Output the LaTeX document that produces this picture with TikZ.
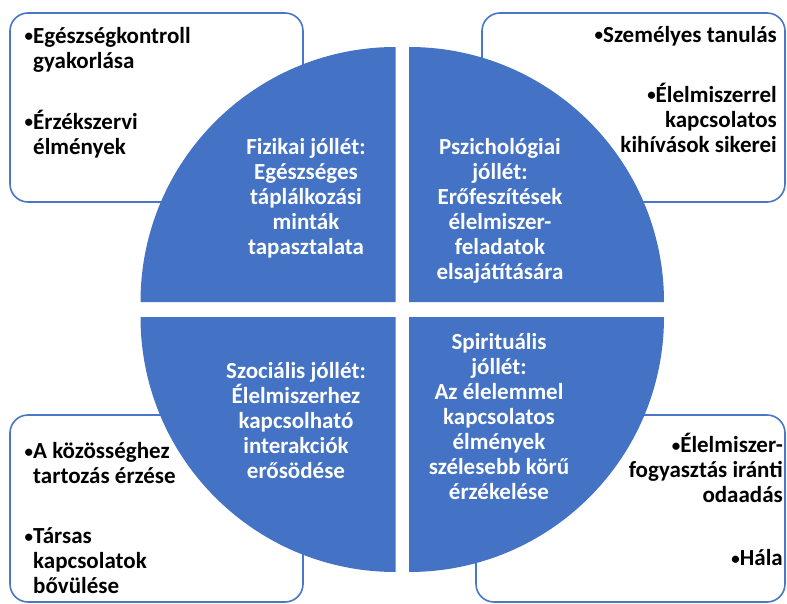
\documentclass[tikz,border=0pt]{standalone}
\usepackage{fontspec}
\setmainfont{Carlito}
\definecolor{qblue}{RGB}{68,114,196}
\definecolor{bblue}{RGB}{72,118,200}
\newcommand{\bul}{\raisebox{1.2pt}{\fontsize{17}{25}\selectfont•}}
\begin{document}
\begin{tikzpicture}[x=1pt,y=-1pt,
  outbox/.style={draw=bblue,line width=1.6pt,fill=white,rounded corners=18pt},
  quad/.style={fill=qblue},
  qtext/.style={text=white,font=\fontsize{23}{25}\selectfont\bfseries,align=center,inner sep=0pt,anchor=north},
  btext/.style={text=black,font=\fontsize{23}{25}\selectfont\bfseries,inner sep=0pt}]
\useasboundingbox (0,0) rectangle (787,604);
% outer boxes
\draw[outbox] (10,13) rectangle (303,202);
\draw[outbox] (482,13) rectangle (785,202);
\draw[outbox] (10,415) rectangle (303,602);
\draw[outbox] (476,415) rectangle (785,602);
% quadrants
\fill[quad] (395.5,302) -- (140.5,302) arc[start angle=180,end angle=270,radius=255] -- cycle;
\fill[quad] (409,302) -- (409,47) arc[start angle=270,end angle=360,radius=255] -- cycle;
\fill[quad] (395.5,317) -- (140.5,317) arc[start angle=180,end angle=90,radius=255] -- cycle;
\fill[quad] (409,317) -- (664,317) arc[start angle=0,end angle=90,radius=255] -- cycle;
% quadrant texts
\node[qtext] (fiz) at (306,134) {\rule{0pt}{20pt}Fizikai jóllét:\\Egészséges\\táplálkozási\\minták\\tapasztalata};
\node[qtext] (psz) at (500,134) {\rule{0pt}{20pt}Pszichológiai\\jóllét:\\Erőfeszítések\\élelmiszer-\\feladatok\\elsajátítására};
\node[qtext] (szo) at (296,358) {\rule{0pt}{20pt}Szociális jóllét:\\Élelmiszerhez\\kapcsolható\\interakciók\\erősödése};
\node[qtext] (spi) at (499,329) {\rule{0pt}{20pt}Spirituális\\jóllét:\\Az élelemmel\\kapcsolatos\\élmények\\szélesebb körű\\érzékelése};
% box texts
\node[btext,align=left,anchor=north west] (b1) at (33,23) {\rule{0pt}{20pt}\llap{\bul}Egészségkontroll\\gyakorlása\\[36pt]\llap{\bul}Érzékszervi\\élmények};
\node[btext,align=right,anchor=north east] (b2) at (777,22) {\rule{0pt}{20pt}\bul Személyes tanulás\\[35pt]\bul Élelmiszerrel\\kapcsolatos\\kihívások sikerei};
\node[btext,align=left,anchor=north west] (b3) at (33,438) {\rule{0pt}{20pt}\llap{\bul}A közösséghez\\tartozás érzése\\[35pt]\llap{\bul}Társas\\kapcsolatok\\bővülése};
\node[btext,align=right,anchor=north east] (b4) at (783,432) {\rule{0pt}{20pt}\bul Élelmiszer-\\fogyasztás iránti\\odaadás\\[38pt]\bul Hála};
\end{tikzpicture}
\end{document}
